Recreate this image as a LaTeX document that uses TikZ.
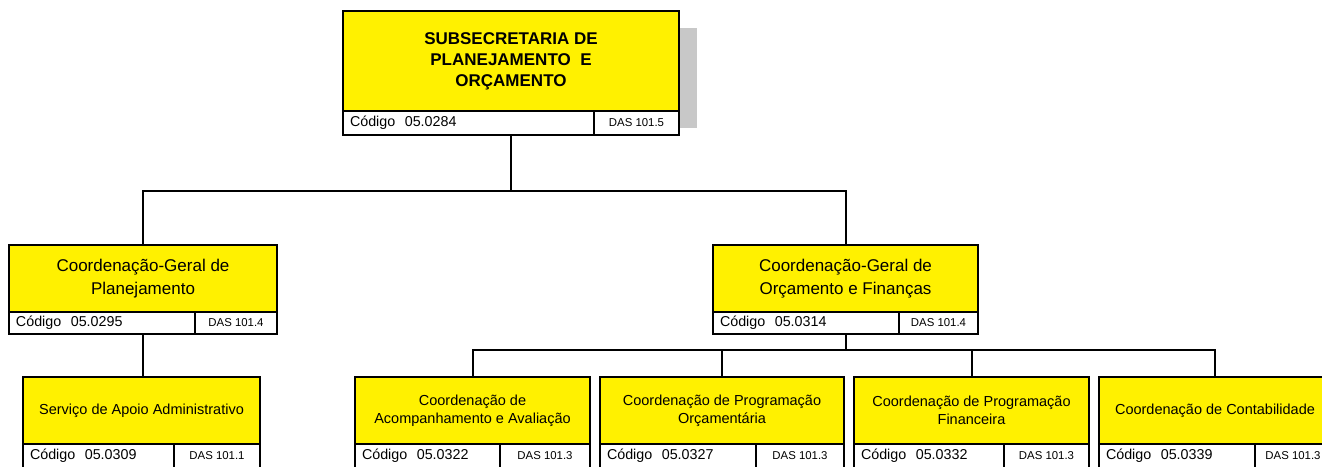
\documentclass[tikz,border=0pt]{standalone}
\usepackage{fontspec}
\setmainfont{Liberation Sans}
\usetikzlibrary{positioning}
\definecolor{amarelo}{RGB}{255,241,0}
\definecolor{sombra}{RGB}{200,200,200}

\begin{document}
\begin{tikzpicture}[x=1pt,y=-1pt,
    caixa/.style={draw, fill=amarelo, line width=2pt, anchor=north west, inner sep=0pt, outer sep=0pt, align=center, font=\fontsize{14.5}{18}\selectfont},
    caixamedia/.style={caixa, font=\fontsize{17}{23}\selectfont},
    caixatopo/.style={caixa, font=\fontsize{17}{21}\selectfont\bfseries},
    codigo/.style={draw, fill=white, line width=2pt, anchor=north west, inner xsep=7pt, inner ysep=0pt, outer sep=0pt, align=left, font=\fontsize{14.3}{16}\selectfont},
    das/.style={draw, fill=white, line width=2pt, anchor=north west, inner sep=0pt, outer sep=0pt, align=center, font=\fontsize{11.4}{13}\selectfont},
    ligacao/.style={line width=2pt}]

    % Page size of the reference
    \useasboundingbox (0,0) rectangle (1322,466);
    \clip (0,0) rectangle (1322,466);

    % Shadow behind the top box
    \fill[sombra] (360,28) rectangle (697,128);

    % Top unit
    \node[caixatopo, minimum width=336pt, minimum height=100pt] (sup) at (343,11) {SUBSECRETARIA DE\\PLANEJAMENTO~~E\\ORÇAMENTO};
    \node[codigo, text width=237pt, minimum height=24pt] (sup-cod) at (sup.south west) {Código~~05.0284};
    \node[das, minimum width=85pt, minimum height=24pt] (sup-das) at (sup-cod.north east) {DAS 101.5};

    % Second level
    \node[caixamedia, minimum width=268pt, minimum height=67pt] (cgp) at (9,245) {Coordenação-Geral de\\Planejamento};
    \node[codigo, text width=172pt, minimum height=22pt] (cgp-cod) at (cgp.south west) {Código~~05.0295};
    \node[das, minimum width=82pt, minimum height=22pt] (cgp-das) at (cgp-cod.north east) {DAS 101.4};

    \node[caixamedia, minimum width=265pt, minimum height=67pt] (cgof) at (713,245) {Coordenação-Geral de\\Orçamento e Finanças};
    \node[codigo, text width=172pt, minimum height=22pt] (cgof-cod) at (cgof.south west) {Código~~05.0314};
    \node[das, minimum width=79pt, minimum height=22pt] (cgof-das) at (cgof-cod.north east) {DAS 101.4};

    % Third level
    \node[caixa, minimum width=237pt, minimum height=67pt] (saa) at (23,377) {Serviço de Apoio Administrativo};
    \node[codigo, text width=137pt, minimum height=24pt] (saa-cod) at (saa.south west) {Código~~05.0309};
    \node[das, minimum width=86pt, minimum height=24pt] (saa-das) at (saa-cod.north east) {DAS 101.1};

    \node[caixa, minimum width=235pt, minimum height=67pt] (cav) at (355,377) {Coordenação de\\Acompanhamento e Avaliação};
    \node[codigo, text width=131pt, minimum height=24pt] (cav-cod) at (cav.south west) {Código~~05.0322};
    \node[das, minimum width=90pt, minimum height=24pt] (cav-das) at (cav-cod.north east) {DAS 101.3};

    \node[caixa, minimum width=244pt, minimum height=67pt] (cpo) at (600,377) {Coordenação de Programação\\Orçamentária};
    \node[codigo, text width=142pt, minimum height=24pt] (cpo-cod) at (cpo.south west) {Código~~05.0327};
    \node[das, minimum width=88pt, minimum height=24pt] (cpo-das) at (cpo-cod.north east) {DAS 101.3};

    \node[caixa, minimum width=235pt, minimum height=67pt] (cpf) at (854,377) {Coordenação de Programação\\Financeira};
    \node[codigo, text width=136pt, minimum height=24pt] (cpf-cod) at (cpf.south west) {Código~~05.0332};
    \node[das, minimum width=85pt, minimum height=24pt] (cpf-das) at (cpf-cod.north east) {DAS 101.3};

    \node[caixa, minimum width=232pt, minimum height=67pt] (cct) at (1099,377) {Coordenação de Contabilidade};
    \node[codigo, text width=142pt, minimum height=24pt] (cct-cod) at (cct.south west) {Código~~05.0339};
    \node[das, minimum width=76pt, minimum height=24pt] (cct-das) at (cct-cod.north east) {DAS 101.3};

    % Connectors from the top unit
    \draw[ligacao] (sup.south |- sup-cod.south) -- ++(0,56) coordinate (ramo1);
    \draw[ligacao] (ramo1) -| (cgp.north);
    \draw[ligacao] (ramo1) -| (cgof.north);

    % Connector to the service
    \draw[ligacao] (cgp.south |- cgp-cod.south) -- (cgp.south |- saa.north);

    % Connectors from the budget unit
    \draw[ligacao] (cgof.south |- cgof-cod.south) -- ++(0,16) coordinate (ramo2);
    \draw[ligacao] (ramo2) -| (cav.north);
    \draw[ligacao] (ramo2) -| (cpo.north);
    \draw[ligacao] (ramo2) -| (cpf.north);
    \draw[ligacao] (ramo2) -| (cct.north);

\end{tikzpicture}
\end{document}
